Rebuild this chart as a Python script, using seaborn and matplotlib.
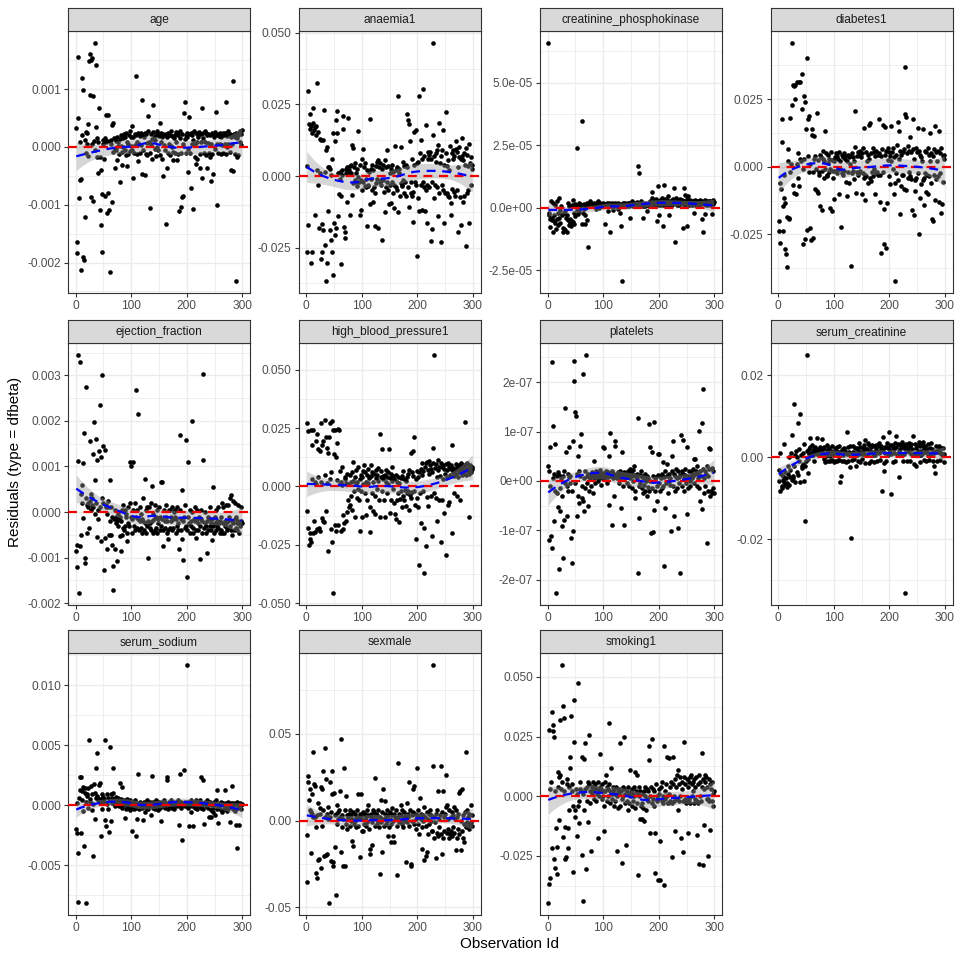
import numpy as np
import pandas as pd
import matplotlib
matplotlib.use("Agg")
import matplotlib.pyplot as plt
import seaborn as sns

# ---------------- data (dfbeta residuals, scaled integers) ----------------
terms = ["age", "anaemia1", "creatinine_phosphokinase", "diabetes1",
         "ejection_fraction", "high_blood_pressure1", "platelets", "serum_creatinine",
         "serum_sodium", "sexmale", "smoking1"]

units = [1e-5, 1e-4, 1e-7, 1e-4, 1e-5, 1e-4, 1e-9, 1e-4, 1e-5, 1e-4, 1e-4]

age = [
    32, -165, -183, 156, 50, -88, 8, -57, -212, -55, 20, 119, -191, 99, -196, 12, -122, 26, -10, 5,
    25, -15, 40, 148, 90, 161, -86, 151, 5, 154, 88, -93, 10, 180, -5, 35, 141, -18, 15, 8,
    -45, 67, -18, -109, -39, -135, -181, -82, 12, 5, -20, 15, -84, 8, 55, -115, 10, 56, -80, -109,
    10, -217, 5, 12, -96, 38, 42, -8, 15, -3, -36, 10, -6, -22, 18, 2, 9, -12, -61, 14,
    2, 20, -31, -8, 15, 0, 22, -5, 18, -14, 25, 9, -33, 6, -12, 20, -7, 28, 1, 17,
    -5, 36, -53, 18, -10, 22, 4, 123, 20, -12, 8, 25, -25, 6, 19, -11, 24, 3, 82, -47,
    20, -5, 18, -48, 25, -12, 22, 7, -14, 28, 54, 9, -10, -105, 23, 6, -21, 13, 26, 73,
    18, -4, 12, 20, -15, 27, 0, 22, -6, 19, 42, -14, 25, 8, -21, 17, -51, 23, 3, 20,
    -5, 22, -133, -36, 18, -10, 25, 5, 20, -14, 28, 2, 0, 19, -23, -8, 16, 21, -11, 26,
    8, 24, -22, -12, 20, -111, 15, 27, -10, -103, 22, -86, 6, -84, 58, 14, 78, 20, -11, 25,
    18, -4, -43, 52, 22, -10, 25, -71, 6, 20, -107, 12, 28, -18, 5, -29, 24, 9, -21, 17,
    20, 26, -13, -36, 22, 8, 67, -54, 15, 24, -11, 28, 9, -14, 25, 21, -37, 7, 23, -10,
    -18, 20, 5, -59, 24, -12, 22, -47, 18, 26, -4, 61, 20, 6, -100, 23, -11, 19, 25, 5,
    18, -12, 22, 4, 25, -11, 20, 6, 24, -13, 77, 19, 0, 27, 5, 21, -8, 23, 17, -39,
    20, 5, 114, -41, 22, 18, -12, 25, -232, 16, -17, 20, -14, 24, 9, 28, 3, 22, 30]

anaemia1 = [
    -265, 35, 297, -170, 180, 165, 215, 175, -304, 150, -265, 238, 185, 160, 170, -135, 145, 175, 20, 326,
    155, -30, -182, 10, 130, -291, 127, -168, -264, -188, 127, 231, 15, -241, -367, 90, 102, -305, 30, -121,
    30, 25, -188, 5, -223, -264, 60, -346, 151, -165, -206, 121, -182, 195, 228, 151, -141, 10, -63, -10,
    15, -71, -308, 20, 5, 165, 210, -178, -194, -217, 25, 10, -89, 30, 201, 15, 20, -135, 35, 10,
    40, -65, 110, -25, 97, 30, -15, 45, -20, 10, -35, 25, -5, 158, -20, -135, 40, -15, -118, -50,
    60, 95, -20, 30, -35, 45, -10, -40, -175, 20, -35, -30, 15, 200, -98, 25, -10, 40, -50, -89,
    20, -40, -60, -176, 35, -25, 50, -10, 57, -180, 30, -20, 45, -15, -30, -223, 25, -15, 40, -55,
    -126, 57, 30, -40, -20, 92, -50, 35, -98, 10, -30, 25, -95, 40, -20, -60, 15, -30, -112, 106,
    20, -40, 30, -50, 279, -124, 25, 10, -70, 102, -25, -30, -34, 50, -15, -60, 35, -20, 40, -70,
    215, 30, -40, 197, -109, 182, 121, -20, -60, 60, -71, -55, -159, 153, 40, -20, 162, -30, -281, 45,
    -77, 50, 279, -121, 80, -30, 125, 60, -118, 304, -20, 70, -40, -121, 179, -50, -30, -165, 60, 85,
    75, -40, 85, -227, 60, -20, -186, 142, 465, 70, -77, -30, 80, 50, 90, -40, 110, -141, 185, -60,
    45, -229, 70, -30, 90, -50, 162, -165, 40, -60, 80, 224, -60, 35, -70, 55, -75, 20, 105, -93,
    -137, 80, -45, 60, 90, -57, 70, -70, 95, 124, -50, 85, 30, -196, 65, 102, -75, -170, 60, 132,
    70, -90, 55, 80, -70, 40, -246, 98, -60, 75, 35, -50, -165, 112, 45, -30, 65, 40, 25]

creatinine_phosphokinase = [
    659, -20, -30, -45, -76, 25, -40, -50, 20, -96, -30, -55, 10, -60, -85, 28, -45, -20, -70, 37,
    -40, -10, -60, 5, -25, -30, -96, -80, -85, -20, -90, -15, -40, -99, -30, 20, -50, -70, 5, -60,
    -45, -75, -55, 10, 31, -56, -67, -20, 15, -35, 5, -10, 238, -25, 10, 20, -15, 5, 15, 10,
    345, -67, -20, 10, 15, -5, -30, -67, 5, -50, 20, 10, -156, 15, 5, 25, 10, 20, 15, 8,
    10, 5, 20, 15, 8, 12, -5, 18, 10, 25, 5, 15, 0, 12, 20, 8, 15, 10, 5, 18,
    12, 8, -67, 15, 10, 20, 5, 12, -15, 18, 10, -96, 8, 15, 20, 5, 12, -10, 15, 8,
    10, 18, 5, 12, 15, -5, 20, 8, 10, 15, -20, -72, 12, -294, 18, 5, 10, 15, 8, 20,
    12, 5, 15, 18, 10, 20, 8, -40, 15, 12, 25, 10, 5, 18, 15, 20, 10, 8, 15, 22,
    10, 20, 166, 138, 15, 8, 12, 25, 10, 18, 5, -40, 15, 12, 20, 8, 15, 10, -15, 18,
    12, 20, 5, 15, 25, 10, 40, 64, 18, 12, 30, 8, 20, 15, 35, 10, -53, 25, 87, -30,
    15, 30, 10, 20, 40, 25, 12, -72, 91, 18, 35, 10, 25, 15, 30, 20, 45, -29, 12, 25,
    20, 15, 30, 10, 25, 35, 18, 78, -139, 20, 40, 12, 28, 15, 30, 22, 10, 25, 35, 18,
    20, 30, 15, -80, 78, 25, 12, 51, 20, 35, -72, 47, 18, 25, 10, 30, 20, 15, 28, 12,
    20, 25, -20, 15, 30, 10, 22, 18, 28, 12, 25, 20, 15, 30, 10, 22, 18, -45, 25, -99,
    20, 15, 30, -24, 12, 25, 18, 22, 10, 28, 15, 20, 25, 12, 18, -25, 30, 15, 22]

diabetes1 = [
    -201, -238, -281, -60, -84, 175, 92, -238, -145, -30, -117, -133, -306, -324, -186, -370, 20, 64, -195, -189,
    181, -20, 10, 458, 227, 304, -69, 298, -96, 251, 302, -100, 314, 10, 50, -41, 312, -71, 315, 30,
    20, 214, 344, -10, -285, 261, 30, 239, -267, 138, 403, -235, 40, 175, 187, -20, 10, -228, -272, 138,
    117, -262, -20, 30, 113, -84, 40, -10, 198, -90, 25, -96, -30, -20, 45, -145, 35, -160, -15, 30,
    60, -40, 20, 132, -10, 50, -30, -35, 15, 45, -20, 30, -154, -10, 55, -164, 25, -40, -15, 20,
    -119, 35, -15, 50, -25, 40, -10, 30, 55, -102, 20, -10, -222, 45, -25, 35, -30, 50, -15, 40,
    30, -55, -108, 20, 45, -20, 35, -60, 10, 40, -367, -25, 50, -15, 35, -45, 20, 206, 73, -96,
    40, -20, 55, -30, -25, 45, 60, -15, 35, -100, 50, -25, 70, -40, 142, -30, -123, 55, -35, 20,
    45, -60, 30, 156, -40, 163, -53, 50, -20, 70, -35, -10, 55, -102, 40, -25, 60, -20, 45, -30,
    50, 175, -30, -131, 40, -318, 65, 154, -20, -285, -158, 45, 147, -300, 60, -136, 25, 70, -35, 55,
    40, -65, 150, 20, 55, -10, 70, -100, 35, -60, -423, 45, -25, 80, -50, 166, 134, 30, -173, 60,
    45, -70, -30, 55, -30, -81, 65, 370, 195, 185, -85, 50, -40, 75, -20, 60, 110, -35, 55, -45,
    -161, 65, 177, -179, 30, -50, -90, 70, -40, 55, 142, -25, 60, -250, 45, -115, 35, -65, 20, -50,
    138, -40, -142, 60, -25, 55, -92, -30, 70, -102, 45, -35, 123, 20, -60, 50, -195, 40, -201, 65,
    -30, 150, -123, 55, -45, 20, 60, -35, -129, 134, 50, -25, -170, 70, -139, 40, -55, 30, 45]

ejection_fraction = [
    -85, -72, -121, 113, 345, -178, 329, -74, 40, -50, 60, 20, 108, -13, 173, -101, -112, 30, 274, 15,
    -45, 20, 10, -35, 157, 25, 5, 40, 30, 15, 127, 10, 198, 70, -5, 161, 20, -54, 115, 5,
    -15, 135, 10, 234, -64, 120, 300, 30, 20, 146, -127, -57, 137, 15, 10, -81, -5, 25, 10, -50,
    70, -20, -50, 10, -72, -10, -171, -118, -15, 5, -81, -25, -10, -108, -20, -5, -30, -15, -52, -10,
    -20, -85, 5, -50, -35, 15, -40, 5, -30, -5, -10, -45, -64, 10, -25, -30, 109, 20, 100, -10,
    -45, -15, 109, 5, -30, 20, -40, 268, -10, -35, 5, -15, 216, -40, -20, 10, -35, -5, -45, -15,
    -20, 30, -40, 72, -25, 5, -45, -30, 10, -20, -101, 10, -35, -25, 20, -40, 58, -20, -45, -5,
    -15, -40, 15, -10, -35, 5, -45, -15, -25, 10, -40, -10, 66, -30, -15, 66, -40, -74, 5, -20,
    -35, -10, 15, -46, -20, -40, -59, 5, 5, -35, -10, -20, 10, -40, -15, -35, 0, -10, 5, -45,
    -15, -30, 10, -40, -25, -81, 5, 169, -15, -40, -59, 48, -20, -105, -10, -35, 15, 158, -30, -143,
    -40, -10, 110, -25, -45, 5, -30, -20, 199, 0, -35, -45, -15, 10, -20, -40, -57, -15, 5, -25,
    -40, -10, -30, -103, -15, 5, -45, -20, 304, 114, -35, 0, -25, -45, -30, -89, -20, -10, -40, -15,
    -30, 10, -40, -25, -15, -62, 56, -30, -45, -10, -25, 5, -40, -30, -20, 10, -35, -25, -45, -20,
    -10, -40, -46, 20, 10, -25, -45, -30, -20, 15, -25, -40, -35, -20, 15, -10, 30, -30, -40, 38,
    -50, -20, 25, -25, -40, -15, 20, -35, -10, -25, -40, 15, -20, -45, -25, -30, 10, -20, -25]

high_blood_pressure1 = [
    272, -103, -176, 236, -250, -200, -226, 243, -236, 30, 176, -200, 243, -146, 20, -193, 196, 10, 224, -184,
    161, 40, -176, 153, -190, 270, 20, 179, -133, -150, 197, -153, 50, 286, -107, 211, 15, 167, 145, -276,
    210, 271, 30, 60, -183, 281, -240, 243, -457, 139, 240, -164, -189, 126, 186, 29, 247, -167, 243, 67,
    10, 20, -189, 85, 5, -121, -183, -157, 40, 30, -147, 15, -110, 55, 10, -60, -90, 50, -80, 20,
    -40, -100, 60, 25, 107, -20, -130, 40, 10, 70, -50, 20, 85, -10, -60, -189, 30, 50, -20, -130,
    40, 67, 10, 90, -30, 60, 20, -124, 50, -60, 75, 15, 35, -90, -196, 93, 45, -30, 60, -107,
    20, 55, -40, -120, 35, 70, -10, 50, 25, 80, -60, 224, -130, 40, 65, 161, -20, 45, 30, -60,
    -129, 50, 20, 70, -30, 40, 60, 10, 161, -114, 35, -60, 55, 83, 25, -10, 45, -70, 30, -116,
    50, -140, 20, -60, -30, 40, 15, -153, -55, 35, -20, -90, 45, 67, -40, 30, -60, -15, 25, -85,
    40, -30, 55, -20, 70, -100, -35, 143, -50, 60, -25, 153, 45, -20, 210, -80, -224, 30, -50, 65,
    40, -90, -336, 60, -30, 75, -157, 50, 100, -20, 65, -372, -179, 85, -253, 100, -45, 107, -85, 70,
    55, 111, 90, -40, 75, -214, 60, 100, 164, -30, 564, 80, -50, 95, 40, -150, 70, 114, -60, 85,
    45, 100, -239, 85, -60, 90, 30, 75, -114, 55, 95, -293, 70, 40, -80, 100, -65, 85, 50, 75,
    90, 176, -200, 60, 80, -30, 45, 70, 95, 55, 85, -40, 75, 40, 90, 60, -60, 80, 100, 50,
    70, 90, 55, 85, 60, 276, 95, 50, 75, 100, 65, 80, 55, -131, 90, 70, 60, 85, 75]

platelets = [
    31, 20, -119, -10, 69, -111, -136, 241, 5, 112, 15, -81, -20, 74, -227, 10, -25, -52, 18, -178,
    12, -15, -61, 5, -30, -92, -156, 10, -79, 20, -5, 147, 59, -10, -72, 15, -20, 8, 69, -5,
    10, -115, -166, -20, -102, 81, 243, 203, 140, -5, 131, 15, -70, 51, -30, 20, -45, 71, 10, 94,
    -35, -10, 216, -40, -61, 5, 20, -15, 255, 10, -5, -50, 15, 8, -20, 12, 5, -10, 18, 10,
    -25, 10, 41, 5, 15, -5, 20, 8, 12, 0, 18, 10, 5, 15, 22, -8, 12, 6, 16, 69,
    10, 66, 15, 5, 20, 12, -5, 18, 8, -49, 51, 14, 96, 10, 20, -90, 6, 16, -30, 12,
    81, 71, 8, 15, 5, 18, 10, -5, 12, 20, 6, -54, 59, 15, -10, 8, -89, 18, 12, 5,
    15, -5, 10, 20, 8, -10, 12, 25, 5, 18, -15, 10, 22, 0, 12, 30, -20, -35, 8, 15,
    5, -187, 128, -10, -76, 12, -5, 20, 8, -15, 10, -25, 5, -8, 15, -20, 0, 10, -30, -12,
    5, 115, -20, 0, 69, -106, 59, -15, 10, -104, 120, -59, 5, -20, 8, -10, -40, 12, 54, -5,
    55, 10, -20, 5, -15, 15, 38, -10, -173, 8, 20, -55, -5, 34, 10, -25, 12, 0, 15, -8,
    5, -102, 50, 20, -10, 80, 15, -70, -20, 10, 25, 5, -15, -96, 20, 8, -5, -187, 12, 92,
    20, -10, 15, 83, 5, -20, 12, 25, -5, -67, 69, 10, -15, 20, 8, 0, -10, 18, 5, 15,
    10, 25, -5, 45, 15, 45, 20, -10, 30, 5, 15, 102, -15, 20, -40, 10, 117, -57, 25, 187,
    5, -25, 20, -10, 15, 30, -126, -20, 10, 25, 67, -30, 64, -20, -25, 26, -15, 20, -25]

serum_creatinine = [
    -57, -30, -83, 10, -40, -70, -75, -54, -45, 33, -60, -67, -35, -50, -72, -63, -20, -40, -68, 0,
    -30, -49, 10, -55, 55, -45, -50, 130, -20, 5, -60, 15, 0, -35, 83, -42, -10, 20, 106, -59,
    5, -25, -22, 10, -15, -57, 33, -156, -22, -10, 250, 15, -5, -38, 20, 8, 25, 47, 10, 5,
    30, 15, 5, 20, -10, 25, 10, 15, 8, 47, 20, 12, 5, 18, 25, 10, 15, 46, 8, 20,
    10, -5, 25, 8, -12, 3, 18, 30, -10, 14, 5, 22, -8, 4, 15, 28, -6, 13, 8, -11,
    5, 22, -8, 15, 26, -10, 4, 13, 29, -7, -59, 12, -46, 18, -10, 20, 5, 24, -8, 11,
    16, -12, 9, 62, 25, -10, 8, 13, -24, 27, -197, 11, -6, 14, 28, 10, -5, 22, 9, -22,
    7, 22, -10, 15, 34, 8, -11, 26, 13, 9, -5, 22, 8, 15, 30, 43, -14, 7, 21, 20,
    9, 35, -13, 30, 16, 12, 25, -8, 30, 14, 5, -11, 28, 13, 6, 30, 20, -9, 12, 27,
    10, 34, -6, 12, 29, 20, -83, 49, 18, -13, -34, 25, 11, 25, -9, 34, 7, 22, 62, 20,
    30, 15, -89, 8, 30, -12, 26, 20, 11, 34, -8, 25, 51, 9, 32, 5, -49, 15, 30, 20,
    7, 33, 37, -10, 25, 30, 8, 20, -331, 32, 28, -9, 15, 22, 36, 14, -10, 28, 8, 32,
    20, 9, 51, -15, 6, 32, 10, -22, 24, 8, 16, 30, 5, 37, -12, 29, 15, 7, 31, 37,
    10, 24, -6, 12, 29, 15, -8, 21, 5, 33, 10, -7, 22, 9, 34, 6, 21, -8, 13, 10,
    -22, -38, 12, 28, 15, -10, 16, 13, 29, 20, 11, -7, 24, 10, 5, 22, 8, -11, 9]

serum_sodium = [
    -200, 20, -231, -806, -398, 60, 130, 236, 236, -231, 40, 120, -50, 150, -339, 140, 100, 30, -815, 80,
    90, 140, -20, 542, 50, 30, 160, 20, 90, -40, -423, 10, 180, -111, 100, 60, 311, 436, 80, 40,
    60, 170, 20, 181, -256, 50, 90, -30, 70, 30, 50, 542, -125, -175, 20, 90, 10, 60, -30, -222,
    40, 487, 90, -131, 20, 60, 100, 311, 10, 50, -10, 30, 70, 0, 40, 20, 60, -10, 186, 30,
    10, 50, -20, 153, 30, 0, 40, -106, 20, -30, 10, 50, -20, 30, 0, 20, -40, 40, 10, -20,
    -214, 20, 0, 30, -30, 10, 40, -20, -256, 0, -117, 20, 259, -30, 10, 30, -10, 20, 0, -20,
    10, -125, 30, -60, 0, 20, -20, 40, 10, -30, 20, 0, 30, -10, 20, -78, 242, 10, -20, 30,
    0, 20, -30, 10, 40, -10, 20, 0, -40, 30, 10, -20, 20, -131, 0, 30, -10, 20, 40, 0,
    -20, 20, 10, 236, 210, 0, -30, 30, 10, -10, 20, 40, 0, -20, 30, 10, -30, 20, 0, 10,
    30, -10, 20, 0, 40, -161, 259, 10, -20, 30, 0, -292, 20, 10, 292, -10, 30, 0, 20, 1168,
    10, -20, 30, -172, 0, 20, 40, -60, 10, -10, -172, 30, 0, 20, -20, 40, 10, -30, 20, 0,
    30, -10, 10, 40, -20, 236, 20, 0, 210, -30, -158, 10, 30, -10, 20, 0, 40, 30, -20, -100,
    10, 30, -100, -40, 0, 20, -60, -20, 30, 10, -80, 0, 40, -30, 130, -147, 10, -20, 20, 0,
    -40, 30, 10, -60, 20, 0, -30, 10, 130, -20, 20, 0, -50, 30, 10, -20, 0, -136, 20, -10,
    10, 161, -30, 20, 0, -50, 10, 20, -161, -356, 30, 0, -20, -161, 10, 20, -30, 0, 10]

sexmale = [
    -82, -351, 257, 220, 120, 180, 60, 50, -188, 150, 40, 20, 393, 210, 20, 200, -40, -303, 30, -331,
    100, -230, -220, 70, 40, -274, 190, 180, -30, 287, 60, -203, 20, 416, -199, 239, 40, -195, 10, 80,
    -475, 20, 220, -234, 50, 150, 284, -241, -264, 160, 30, -153, -431, 40, 90, -20, 50, 10, 60, 170,
    20, -180, 469, -40, 30, 10, -264, 300, -264, 60, 140, -20, 30, -50, 20, 10, 40, -30, 60, 0,
    30, -119, 10, 50, -146, -20, 40, 0, 20, -40, 60, 10, -30, 150, 20, -211, 40, 155, 10, -60,
    30, -60, 50, -20, 10, 40, -30, 20, 60, -10, 90, 30, -50, -165, -195, 20, 40, -10, -140, 60,
    20, 50, 245, -30, 10, 40, -20, 30, 60, 0, -40, -310, 20, 120, -10, -180, 50, 180, 10, -30,
    40, 110, 20, -20, 60, 0, 30, -90, -40, 50, 10, -20, -121, 30, 70, -90, 0, 40, -125, 20,
    10, 60, -30, -316, 330, 20, -10, 40, 0, 30, 90, -20, 60, 10, -40, 20, 50, 0, 30, -239,
    100, -10, 40, 20, -30, 220, 60, -262, -250, 0, 30, 50, 180, 200, -20, 40, 10, -50, 301, 30,
    -20, 60, -80, 20, 130, 40, 10, -165, -40, 30, 0, 80, -226, 20, -30, -203, -180, 50, 10, -80,
    40, -20, 60, 0, 30, -60, -60, 895, 312, 20, -100, -10, -216, 40, -70, 60, -90, 170, 10, -40,
    30, -80, 312, 50, -195, -100, 170, 20, -60, 40, 80, 264, -70, 90, 10, -50, -100, 60, -80, 20,
    -60, 50, -90, 30, -40, 80, -70, 10, -172, 60, -100, 20, -50, 40, 160, -80, 170, 0, -172, 180,
    -60, 30, -100, -20, -123, 50, -40, 393, -10, 60, -30, 20, -50, 40, -20, 90, -10, 30, -30]

smoking1 = [
    -448, -367, 278, -342, 30, 60, 352, -218, 300, 275, 247, -265, 20, -300, -134, -214, -328, 100, 40, 80,
    -100, 90, 320, 30, 550, 60, 376, -172, 20, 328, -130, -263, -253, 70, 50, -134, -217, -60, 40, 120,
    166, 335, 20, 50, -319, -40, 401, 226, -60, -88, 30, -165, 10, -40, 475, -20, -113, 30, 60, 20,
    166, -246, -441, 10, 154, -60, 222, 30, -305, 40, -20, 60, -109, 258, 50, -30, 20, -230, 10, 40,
    30, 60, -10, 20, 50, 40, -20, 30, 10, 60, -175, 20, 0, 40, 175, 30, -10, 50, 20, 0,
    -144, -40, 60, 20, 90, 40, -20, 30, 0, 306, 50, -30, 20, 120, 10, -10, 40, 20, -40, 30,
    10, -20, 40, -228, 0, 20, -50, 30, 10, -40, 222, 20, -10, -281, 40, 0, 247, 30, -30, 10,
    -203, 20, -20, -60, 40, 10, -30, 110, 0, 20, -40, 30, 10, -20, 40, 0, -50, 100, 20, 90,
    -30, 10, -332, 40, 0, -95, 20, -40, -95, -30, 10, -50, -102, 20, 40, 0, -60, 30, -10, -20,
    20, 150, 212, -154, 0, 40, 240, -30, -10, 30, -40, 20, -321, -154, 50, 0, -20, -10, -351, 30,
    10, -351, -186, 40, -20, 60, 0, -30, 212, -374, -10, 20, 50, 0, 166, -30, -30, 160, 10, 40,
    -20, 60, -30, -256, 50, 163, 0, -20, -147, 70, 40, -10, 90, -60, 110, -20, 50, 0, 80, -176,
    30, 60, -20, -235, 226, 80, -10, 50, -30, 70, -20, 40, -155, 60, -10, 80, -30, 90, 0, 50,
    20, 60, -30, 70, -10, 40, 80, -20, -161, 50, -30, 90, -284, 0, 60, -20, 180, 40, 70, -288,
    -119, 30, 60, 90, 80, -10, 40, -10, -249, 70, -20, 50, -141, 30, 60, -20, -40, 10, 20]

series = [age, anaemia1, creatinine_phosphokinase, diabetes1, ejection_fraction,
          high_blood_pressure1, platelets, serum_creatinine, serum_sodium, sexmale, smoking1]

y_breaks = [
    [-0.002, -0.001, 0.0, 0.001],
    [-0.025, 0.0, 0.025, 0.05],
    [-2.5e-5, 0.0, 2.5e-5, 5e-5],
    [-0.025, 0.0, 0.025],
    [-0.002, -0.001, 0.0, 0.001, 0.002, 0.003],
    [-0.05, -0.025, 0.0, 0.025, 0.05],
    [-2e-7, -1e-7, 0.0, 1e-7, 2e-7],
    [-0.02, 0.0, 0.02],
    [-0.005, 0.0, 0.005, 0.01],
    [-0.05, 0.0, 0.05],
    [-0.025, 0.0, 0.025, 0.05],
]
y_labels = [
    ["-0.002", "-0.001", "0.000", "0.001"],
    ["-0.025", "0.000", "0.025", "0.050"],
    ["-2.5e-05", "0.0e+00", "2.5e-05", "5.0e-05"],
    ["-0.025", "0.000", "0.025"],
    ["-0.002", "-0.001", "0.000", "0.001", "0.002", "0.003"],
    ["-0.050", "-0.025", "0.000", "0.025", "0.050"],
    ["-2e-07", "-1e-07", "0e+00", "1e-07", "2e-07"],
    ["-0.02", "0.00", "0.02"],
    ["-0.005", "0.000", "0.005", "0.010"],
    ["-0.05", "0.00", "0.05"],
    ["-0.025", "0.000", "0.025", "0.050"],
]
x_breaks = [0, 100, 200, 300]
x_labels = ["0", "100", "200", "300"]


# ---------------- loess smoother (like geom_smooth, span 0.75) ----------------
def loess_fit(x, y, xs, span=0.75):
    n = len(x)
    q = int(np.floor(n * span))

    def hat_rows(points):
        L = np.zeros((len(points), n))
        for i, x0 in enumerate(points):
            d = np.abs(x - x0)
            h = np.sort(d)[q - 1]
            w = np.clip(1 - (d / h) ** 3, 0, None) ** 3
            X = np.column_stack([np.ones(n), x - x0, (x - x0) ** 2])
            XtW = X.T * w
            L[i] = np.linalg.solve(XtW @ X, XtW)[0]
        return L

    Ld = hat_rows(x)
    res = y - Ld @ y
    IL = np.eye(n) - Ld
    d1 = np.trace(IL.T @ IL)
    sigma = np.sqrt(np.sum(res ** 2) / d1)
    Ls = hat_rows(xs)
    fit = Ls @ y
    se = sigma * np.sqrt(np.sum(Ls ** 2, axis=1))
    return fit, se


# ---------------- figure ----------------
sns.set_theme(style="white")
plt.rcParams["font.family"] = ["Liberation Sans", "DejaVu Sans"]

W = H = 960
fig = plt.figure(figsize=(9.6, 9.6), dpi=100)

col_left = [68, 298.5, 540, 770.5]
panel_w = 182
row_top = [8, 320, 630]
strip_h = 23
panel_h = 262

grid_major = "#EBEBEB"
border = "#333333"

for k, (name, vals, unit) in enumerate(zip(terms, series, units)):
    r, c = divmod(k, 4)
    left = col_left[c]
    top = row_top[r]
    ax = fig.add_axes([left / W, 1 - (top + strip_h + panel_h) / H, panel_w / W, panel_h / H])
    sax = fig.add_axes([left / W, 1 - (top + strip_h) / H, panel_w / W, strip_h / H])

    yv = np.asarray(vals, dtype=float) * unit
    xv = np.arange(1, len(yv) + 1, dtype=float)
    df = pd.DataFrame({"id": xv, "res": yv})

    xs = np.linspace(xv.min(), xv.max(), 80)
    fit, se = loess_fit(xv, yv, xs)
    lo, hi = fit - 1.97 * se, fit + 1.97 * se

    ymin = min(yv.min(), lo.min(), 0)
    ymax = max(yv.max(), hi.max(), 0)
    pad = 0.05 * (ymax - ymin)
    ylim = (ymin - pad, ymax + pad)

    # grid
    br = y_breaks[k]
    step = br[1] - br[0]
    minors = [b + step / 2 for b in [br[0] - step] + br]
    for m in minors:
        if ylim[0] < m < ylim[1]:
            ax.axhline(m, color=grid_major, lw=0.55, zorder=0)
    for b in br:
        ax.axhline(b, color=grid_major, lw=1.0, zorder=0)
    for xm in [50, 150, 250]:
        ax.axvline(xm, color=grid_major, lw=0.55, zorder=0)
    for xb in x_breaks:
        ax.axvline(xb, color=grid_major, lw=1.0, zorder=0)

    sns.scatterplot(data=df, x="id", y="res", ax=ax, color="black", s=11,
                    linewidth=0, legend=False, zorder=2)
    ax.fill_between(xs, lo, hi, color="#999999", alpha=0.4, linewidth=0, zorder=3)
    ax.axhline(0, color="#EE0000", lw=1.6, dashes=(4, 3), zorder=4)
    ax.plot(xs, fit, color="#0000FF", lw=1.6, dashes=(4, 3), zorder=5)

    ax.set_xlim(-13.9, 313.9)
    ax.set_ylim(*ylim)
    ax.set_xticks(x_breaks)
    ax.set_xticklabels(x_labels)
    ax.set_yticks(br)
    ax.set_yticklabels(y_labels[k])
    ax.set_xlabel("")
    ax.set_ylabel("")
    ax.tick_params(axis="both", length=3, width=0.8, color=border, labelsize=8.6,
                   labelcolor="#4D4D4D", pad=2, direction="out",
                   bottom=True, left=True)
    for sp in ax.spines.values():
        sp.set_color(border)
        sp.set_linewidth(0.8)
        sp.set_visible(True)
    ax.set_facecolor("white")

    sax.set_facecolor("#D9D9D9")
    sax.set_xticks([])
    sax.set_yticks([])
    for sp in sax.spines.values():
        sp.set_color(border)
        sp.set_linewidth(0.8)
    sax.text(0.5, 0.47, name, ha="center", va="center", fontsize=8.6,
             color="#1A1A1A", transform=sax.transAxes)

fig.text(15 / W, 1 - 462 / H, "Residuals (type = dfbeta)", rotation=90,
         ha="center", va="center", fontsize=11, color="black")
fig.text(510 / W, 1 - 944 / H, "Observation Id", ha="center", va="center",
         fontsize=11, color="black")

fig.savefig("out.png", dpi=100, facecolor="white")
